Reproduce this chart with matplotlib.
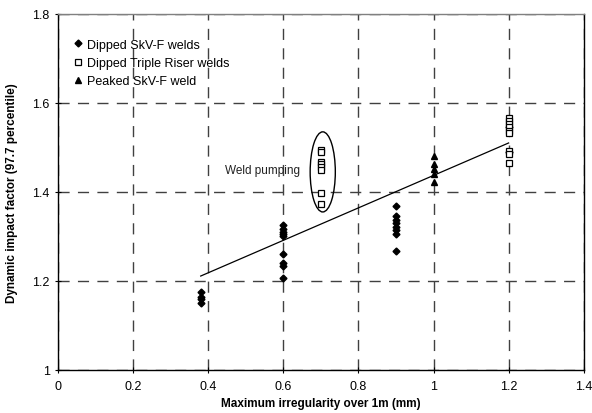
import numpy as np
import matplotlib
matplotlib.use('Agg')
import matplotlib.pyplot as plt
from matplotlib.patches import Ellipse

plt.rcParams['font.family'] = ['Liberation Sans', 'DejaVu Sans']

# dipped SkV-F welds (diamonds)
skv_x = [0.38, 0.38, 0.38, 0.38,
         0.6, 0.6, 0.6, 0.6, 0.6, 0.6, 0.6, 0.6, 0.6,
         0.9, 0.9, 0.9, 0.9, 0.9, 0.9, 0.9, 0.9,
         1.2, 1.2]
skv_y = [1.175, 1.165, 1.16, 1.15,
         1.325, 1.317, 1.31, 1.305, 1.30, 1.26, 1.24, 1.234, 1.207,
         1.369, 1.345, 1.338, 1.33, 1.322, 1.315, 1.306, 1.268,
         1.545, 1.49]

# dipped triple riser welds (open squares)
tr_x = [0.7, 0.7, 0.7, 0.7, 0.7, 0.7, 0.7, 0.7,
        1.2, 1.2, 1.2, 1.2, 1.2, 1.2, 1.2, 1.2, 1.2]
tr_y = [1.495, 1.49, 1.468, 1.462, 1.456, 1.45, 1.398, 1.373,
        1.565, 1.56, 1.553, 1.545, 1.538, 1.532, 1.493, 1.486, 1.466]

# peaked SkV-F weld (triangles)
pk_x = [1.0, 1.0, 1.0, 1.0, 1.0]
pk_y = [1.48, 1.463, 1.452, 1.44, 1.423]

# trend line
fit_x = [0.38, 1.2]
fit_y = [1.211, 1.51]

xticks = [0, 0.2, 0.4, 0.6, 0.8, 1, 1.2, 1.4]
yticks = [1, 1.2, 1.4, 1.6, 1.8]

fig = plt.figure(figsize=(5.92, 4.14), dpi=100)
ax = fig.add_axes([0.098, 0.104, 0.888, 0.86])

ax.plot(skv_x, skv_y, 'D', color='black', markersize=3.5, label='Dipped SkV-F welds', zorder=3)
ax.plot(tr_x, tr_y, 's', mfc='white', mec='black', mew=0.9, markersize=4.5,
        label='Dipped Triple Riser welds', zorder=3)
ax.plot(pk_x, pk_y, '^', color='black', markersize=5, label='Peaked SkV-F weld', zorder=3)
ax.plot(fit_x, fit_y, '-', color='black', linewidth=0.9, zorder=2)

ax.add_patch(Ellipse((0.705, 1.445), 0.067, 0.18, fill=False, edgecolor='black', linewidth=1))
ax.text(0.445, 1.45, 'Weld pumping', fontsize=8.5, va='center', ha='left', color='#222222')

ax.set_xlim(0, 1.4)
ax.set_ylim(1, 1.8)
ax.set_xticks(xticks)
ax.set_xticklabels(['0', '0.2', '0.4', '0.6', '0.8', '1', '1.2', '1.4'])
ax.set_yticks(yticks)
ax.set_yticklabels(['1', '1.2', '1.4', '1.6', '1.8'])
ax.tick_params(direction='inout', length=5, width=0.8, labelsize=9, colors='black')
ax.tick_params(axis='x', pad=5)

ax.grid(True, color='#404040', linestyle=(0, (8, 6)), linewidth=1)
ax.set_axisbelow(True)
ax.spines['top'].set_color('#808080')
ax.spines['right'].set_color('black')
for s in ax.spines.values():
    s.set_linewidth(1)

ax.set_xlabel('Maximum irregularity over 1m (mm)', fontsize=8.5, fontweight='bold', labelpad=3)
ax.set_ylabel('Dynamic impact factor (97.7 percentile)', fontsize=8.5, fontweight='bold', labelpad=10)

ax.legend(loc='upper left', bbox_to_anchor=(0.007, 0.955), frameon=False, fontsize=9,
          handletextpad=0.1, handlelength=1.2, labelspacing=0.5, borderaxespad=0.3)

fig.savefig('out.png', dpi=100)
